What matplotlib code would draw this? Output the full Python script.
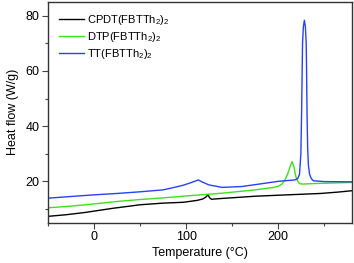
import matplotlib
matplotlib.use("Agg")
import matplotlib.pyplot as plt
from matplotlib.ticker import MultipleLocator

plt.rcParams['font.family'] = ['Liberation Sans', 'DejaVu Sans']
plt.rcParams['mathtext.fontset'] = 'custom'
plt.rcParams['mathtext.rm'] = 'Liberation Sans'
plt.rcParams['mathtext.it'] = 'Liberation Sans:italic'

labels = ['CPDT(FBTTh$_2$)$_2$', 'DTP(FBTTh$_2$)$_2$', 'TT(FBTTh$_2$)$_2$']
colors = ['#000000', '#3ee01a', '#2840ff']

t_cpdt = [-50, -30, -10, 0, 20, 50, 75, 97, 112, 118, 121, 123.7, 125.5, 127.6, 135, 175, 210, 246, 265, 280]
v_cpdt = [7.3, 7.9, 8.7, 9.2, 10.2, 11.5, 12.1, 12.4, 13.1, 13.6, 14.2, 15.1, 14.0, 13.5, 13.7, 14.6, 15.1, 15.6, 16.1, 16.6]

t_dtp = [-50, -25, 0, 25, 50, 75, 100, 139, 175, 195, 200, 204, 207, 210, 213, 215, 217, 219, 221, 223, 226, 240, 260, 280]
v_dtp = [10.4, 11.0, 11.8, 12.7, 13.4, 14.0, 14.7, 15.7, 16.9, 17.8, 18.2, 19.0, 20.3, 22.5, 25.5, 27.1, 25.2, 21.8, 20.0, 19.2, 19.0, 19.2, 19.4, 19.6]

t_tt = [-50, -25, 0, 25, 50, 75, 87, 97, 105, 110, 113.3, 117, 124.7, 139, 160, 175, 200, 218, 221, 223, 224.5, 225.3, 225.9, 226.3, 227.2, 228.3,
        229.4, 230.3, 230.7, 231.2, 231.8, 232.6, 234, 235.8, 238, 250, 280]
v_tt = [13.9, 14.5, 15.1, 15.6, 16.2, 16.9, 17.8, 18.6, 19.5, 20.1, 20.5, 19.8, 18.7, 17.8, 18.1, 18.8, 20.0, 20.5, 21.0, 22.5, 30, 45, 60, 70, 76, 78.4,
        76, 70, 60, 45, 33, 26, 22.5, 21.0, 20.2, 19.9, 19.8]

fig = plt.figure(figsize=(3.54, 2.63), dpi=100)
ax = fig.add_axes([48/354, 1-222.7/263, (352-48)/354, (222.7-2)/263])

for t, v, c, lab in [(t_cpdt, v_cpdt, colors[0], labels[0]),
                     (t_dtp, v_dtp, colors[1], labels[1]),
                     (t_tt, v_tt, colors[2], labels[2])]:
    ax.plot(t, v, color=c, lw=1.0, label=lab)

ax.set_xlim(-50, 280)
ax.set_ylim(5, 85)
ax.xaxis.set_major_locator(MultipleLocator(100))
ax.xaxis.set_minor_locator(MultipleLocator(50))
ax.yaxis.set_major_locator(MultipleLocator(20))
ax.yaxis.set_minor_locator(MultipleLocator(10))
ax.tick_params(which='major', direction='out', length=4, width=0.8, labelsize=9, color='#444444', pad=2)
ax.tick_params(which='minor', direction='out', length=2, width=0.8, color='#444444')
for s in ax.spines.values():
    s.set_linewidth(1.0)
    s.set_color('#333333')

ax.set_xlabel('Temperature (°C)', fontsize=9, labelpad=3)
ax.set_ylabel('Heat flow (W/g)', fontsize=9, labelpad=5)

leg = ax.legend(loc='upper left', frameon=False, fontsize=8, handlelength=2.2,
                handletextpad=0.35, labelspacing=0.28, borderaxespad=0.6,
                borderpad=0.4)

fig.savefig('out.png', dpi=100)
